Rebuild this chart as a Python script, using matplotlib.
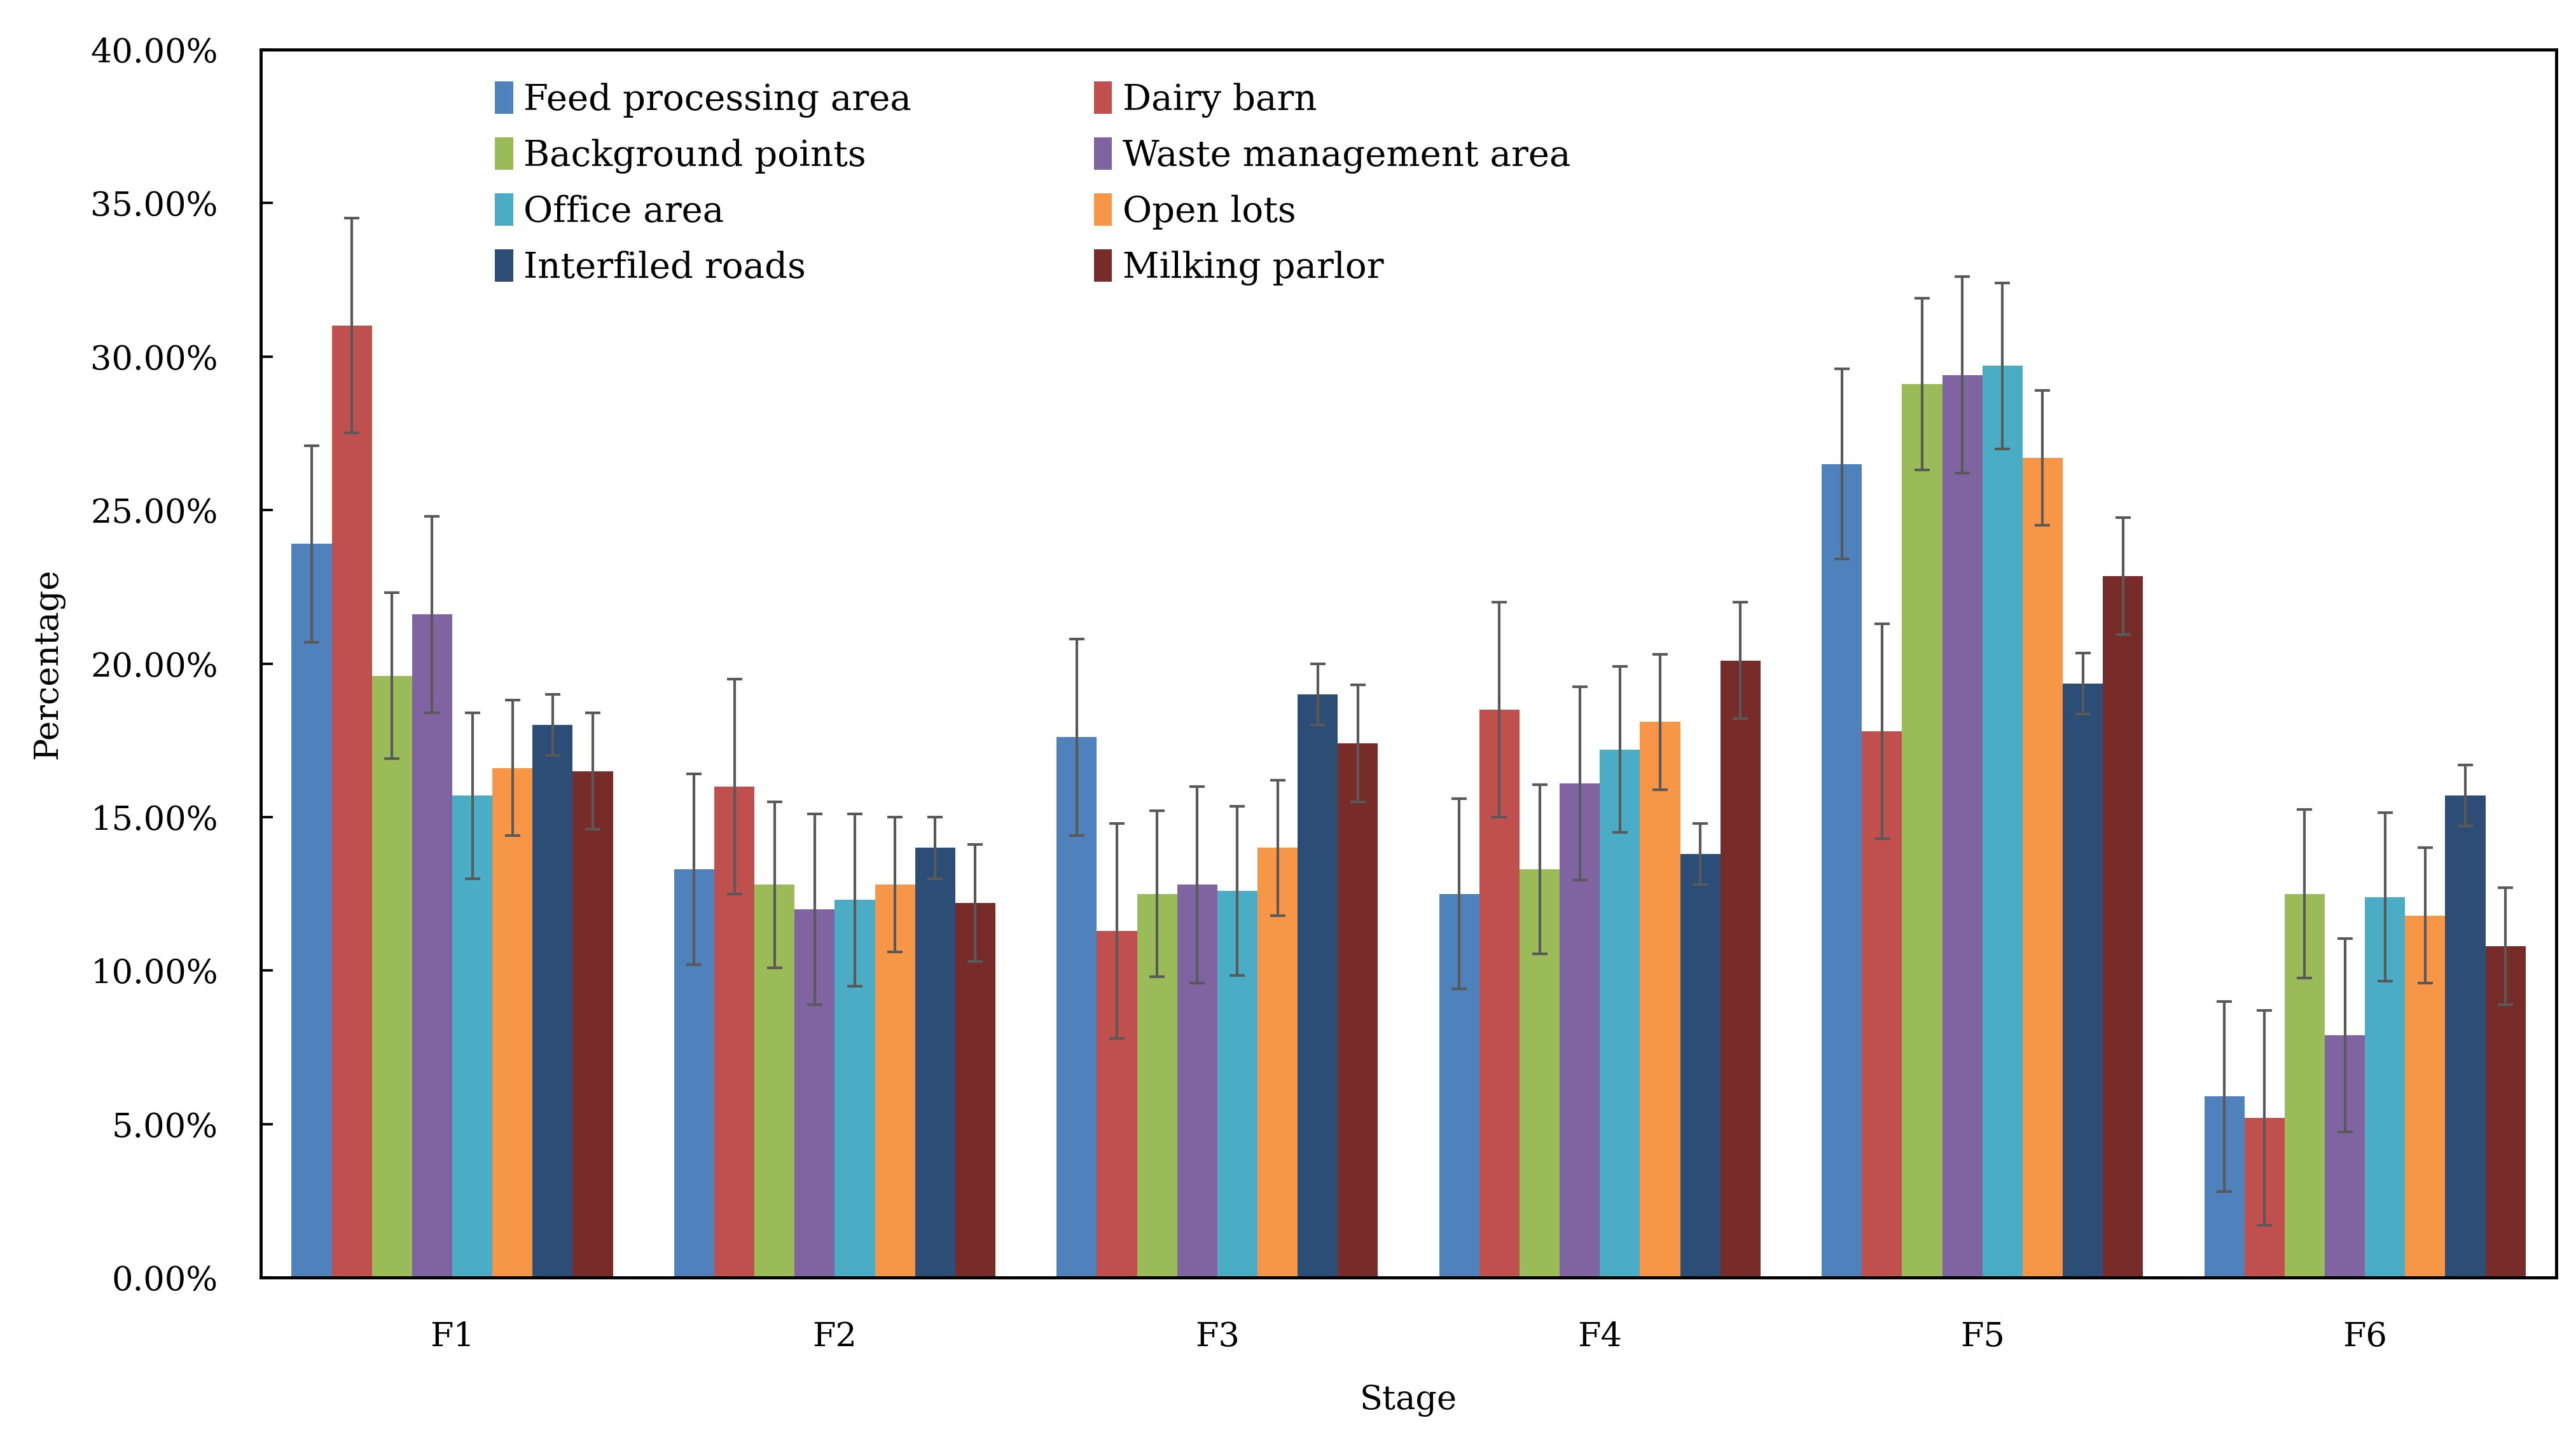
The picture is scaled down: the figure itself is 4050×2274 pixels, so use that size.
import matplotlib
matplotlib.use("Agg")
import matplotlib.pyplot as plt
import numpy as np

plt.rcParams['font.family'] = ['DejaVu Serif']

stages = ["F1", "F2", "F3", "F4", "F5", "F6"]
series = ["Feed processing area", "Dairy barn", "Background points",
          "Waste management area", "Office area", "Open lots",
          "Interfiled roads", "Milking parlor"]
colors = ["#4F81BD", "#C0504D", "#9BBB59", "#8064A2",
          "#4BACC6", "#F79646", "#2C4D75", "#772C2A"]

# values (%) per series, across F1..F6
feed       = [23.9, 13.3, 17.6, 12.5, 26.5, 5.9]
dairy      = [31.0, 16.0, 11.3, 18.5, 17.8, 5.2]
background = [19.6, 12.8, 12.5, 13.3, 29.1, 12.5]
waste      = [21.6, 12.0, 12.8, 16.1, 29.4, 7.9]
office     = [15.7, 12.3, 12.6, 17.2, 29.7, 12.4]
openlots   = [16.6, 12.8, 14.0, 18.1, 26.7, 11.8]
interfiled = [18.0, 14.0, 19.0, 13.8, 19.35, 15.7]
milking    = [16.5, 12.2, 17.4, 20.1, 22.85, 10.8]

feed_err       = [3.2, 3.1, 3.2, 3.1, 3.1, 3.1]
dairy_err      = [3.5, 3.5, 3.5, 3.5, 3.5, 3.5]
background_err = [2.7, 2.7, 2.7, 2.75, 2.8, 2.75]
waste_err      = [3.2, 3.1, 3.2, 3.15, 3.2, 3.15]
office_err     = [2.7, 2.8, 2.75, 2.7, 2.7, 2.75]
openlots_err   = [2.2, 2.2, 2.2, 2.2, 2.2, 2.2]
interfiled_err = [1.0, 1.0, 1.0, 1.0, 1.0, 1.0]
milking_err    = [1.9, 1.9, 1.9, 1.9, 1.9, 1.9]

values = [feed, dairy, background, waste, office, openlots, interfiled, milking]
errors = [feed_err, dairy_err, background_err, waste_err, office_err,
          openlots_err, interfiled_err, milking_err]

fig = plt.figure(figsize=(15.0, 2274 / 270), dpi=270)
ax = fig.add_axes([0.1013, 0.1164, 0.891, 0.8494])

x = np.arange(len(stages))
w = 0.105
handles = []
for i, (name, vals, errs, c) in enumerate(zip(series, values, errors, colors)):
    b = ax.bar(x + (i - 3.5) * w, vals, w, color=c, label=name, yerr=errs,
               capsize=3.2,
               error_kw=dict(ecolor="#595959", elinewidth=1.1, capthick=1.1))
    handles.append(b)

ax.set_xlim(-0.5, 5.5)
ax.set_ylim(0, 40)
ax.set_yticks(np.arange(0, 40.1, 5))
ax.set_yticklabels([f"{v:.2f}%" for v in np.arange(0, 40.1, 5)], fontsize=14)
ax.set_xticks(x)
ax.set_xticklabels(stages, fontsize=14)
ax.tick_params(axis='x', length=0, pad=18)
ax.tick_params(axis='y', direction='in', length=5, width=1.0, pad=18)
for s in ax.spines.values():
    s.set_linewidth(1.3)
    s.set_color("black")

ax.set_xlabel("Stage", fontsize=14, labelpad=13)
ax.set_ylabel("Percentage", fontsize=14, labelpad=11)

# row-wise legend order (two columns)
order = [0, 2, 4, 6, 1, 3, 5, 7]
ax.legend([handles[k] for k in order], [series[k] for k in order],
          loc="upper left", bbox_to_anchor=(0.088, 1.0), ncol=2,
          frameon=False, fontsize=15, handlelength=0.5, handleheight=1.0,
          handletextpad=0.3, columnspacing=5.1, labelspacing=0.56)

fig.savefig("out.png", dpi=270)
